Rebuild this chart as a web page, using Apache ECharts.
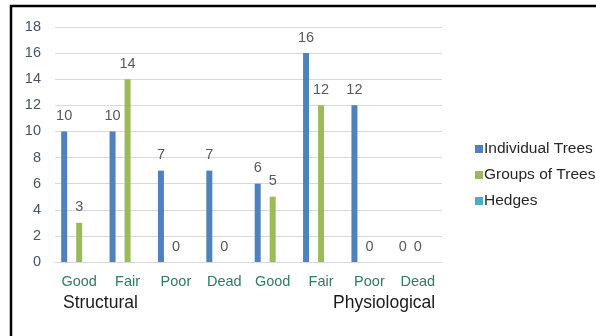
<!DOCTYPE html>
<html>
<head>
<meta charset="utf-8">
<script src="https://cdn.jsdelivr.net/npm/echarts@6/dist/echarts.min.js"></script>
<style>
  html, body { margin: 0; padding: 0; background: #fff; }
  #chart { width: 596px; height: 336px; }
</style>
</head>
<body>
<div id="chart"></div>
<script>
// Tree condition counts by category
const categories = ['Good', 'Fair', 'Poor', 'Dead', 'Good', 'Fair', 'Poor', 'Dead'];
const groupLabels = ['Structural', 'Physiological'];
const individualTrees = [10, 10, 7, 7, 6, 16, 12, 0];
const groupsOfTrees = [3, 14, 0, 0, 5, 12, 0, 0];
const hedges = [null, null, null, null, null, null, null, null];
const yTicks = { min: 0, max: 18, interval: 2 };

const font = '"Liberation Sans", Arial, sans-serif';
const labelStyle = {
  show: true,
  position: 'top',
  distance: 8,
  color: '#595959',
  fontSize: 14.5,
  fontFamily: font
};

const chart = echarts.init(document.getElementById('chart'));
chart.setOption({
  animation: false,
  textStyle: { fontFamily: font },
  grid: { left: 55, right: 154, top: 27, bottom: 74 },
  xAxis: {
    type: 'category',
    data: categories,
    axisTick: { show: false },
    axisLine: { lineStyle: { color: '#d9d9d9', width: 1 } },
    axisLabel: { color: '#2f7a6a', fontSize: 14.5, margin: 12, fontFamily: font, interval: 0 }
  },
  yAxis: {
    type: 'value',
    min: yTicks.min,
    max: yTicks.max,
    interval: yTicks.interval,
    axisLine: { show: false },
    axisTick: { show: false },
    splitLine: { lineStyle: { color: '#d9d9d9', width: 1 } },
    axisLabel: { color: '#44546a', fontSize: 14.5, margin: 14, fontFamily: font }
  },
  legend: {
    orient: 'vertical',
    left: 470,
    top: 136,
    itemWidth: 8,
    itemHeight: 8,
    itemGap: 10,
    icon: 'rect',
    textStyle: { color: '#262626', fontSize: 15.5, fontFamily: font, padding: [0, 0, 0, -4] },
    data: ['Individual Trees', 'Groups of Trees', 'Hedges']
  },
  graphic: [
    {
      type: 'rect',
      shape: { x: 11, y: 6, width: 620, height: 360 },
      style: { fill: 'none', stroke: '#000', lineWidth: 2.5 },
      silent: true
    },
    {
      type: 'text',
      left: 63,
      top: 294,
      style: { text: groupLabels[0], fill: '#1a1a1a', font: '17.5px ' + font }
    },
    {
      type: 'text',
      left: 333,
      top: 294,
      style: { text: groupLabels[1], fill: '#1a1a1a', font: '17.5px ' + font }
    }
  ],
  series: [
    {
      name: 'Individual Trees',
      type: 'bar',
      data: individualTrees,
      barWidth: 6,
      barGap: '150%',
      itemStyle: { color: '#4f81bd' },
      label: labelStyle
    },
    {
      name: 'Groups of Trees',
      type: 'bar',
      data: groupsOfTrees,
      barWidth: 6,
      barGap: '150%',
      itemStyle: { color: '#9bbb59' },
      label: labelStyle
    },
    {
      name: 'Hedges',
      type: 'bar',
      data: hedges,
      barWidth: 6,
      barGap: '150%',
      itemStyle: { color: '#4bacc6' },
      label: labelStyle
    }
  ]
});
</script>
</body>
</html>
